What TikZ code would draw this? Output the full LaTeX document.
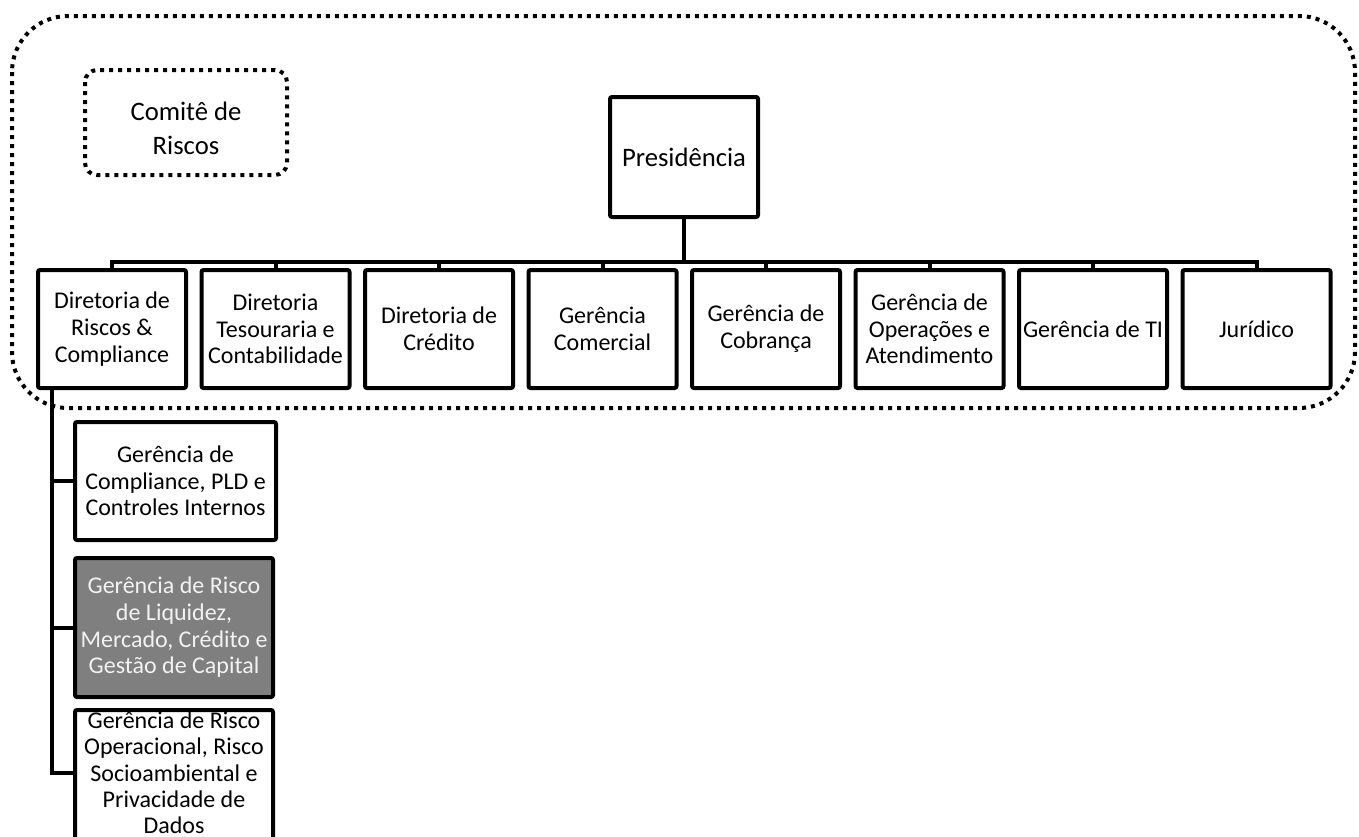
\documentclass[tikz,border=0pt]{standalone}
\usepackage{fontspec}
\setmainfont{Carlito}
\usetikzlibrary{calc}
\begin{document}
\begin{tikzpicture}[x=0.75pt,y=-0.75pt,
  box/.style={draw=black,line width=3pt,fill=white,rounded corners=1.5pt,inner sep=0pt,outer sep=0pt,align=center,anchor=north west,
    font=\fontsize{18}{20}\selectfont},
  rowbox/.style={box,minimum width=111pt,minimum height=88.5pt},
  graybox/.style={box,fill=gray50,text=textlight},
  dotline/.style={line width=3pt,dash pattern=on 3pt off 3.75pt},
  conn/.style={line width=3pt,line cap=rect}]
\definecolor{gray50}{HTML}{7F7F7F}
\definecolor{textlight}{HTML}{F2F2F2}
\useasboundingbox (0,0) rectangle (1359,836);
% outer dotted frame
\draw[dotline,rounded corners=42pt] (12,16) rectangle (1355,408);
% committee
\node[box,draw=none,fill=none,minimum width=151.5pt,minimum height=78.75pt] (comite) at (85,70) {};
\draw[dotline,rounded corners=9pt] (comite.north west) rectangle (comite.south east);
\node[align=center,inner sep=0pt,font=\fontsize{20}{25}\selectfont] (comitetext) at ($(comite.center)+(0,6)$) {Comitê de\\Riscos};
% presidency
\node[box,minimum width=111pt,minimum height=90pt,font=\fontsize{20}{24}\selectfont] (pres) at (610,97) {Presidência};
\coordinate (bar) at ($(pres.south)+(0,45)$);
% row
\node[rowbox] (b1) at (38,270) {Diretoria de\\Riscos \&\\Compliance};
\node[rowbox] (b2) at (201.5,270) {Diretoria\\Tesouraria e\\Contabilidade};
\node[rowbox] (b3) at (365,270) {Diretoria de\\Crédito};
\node[rowbox] (b4) at (528.5,270) {Gerência\\Comercial};
\node[rowbox] (b5) at (692,270) {Gerência de\\Cobrança};
\node[rowbox] (b6) at (855.5,270) {Gerência de\\Operações e\\Atendimento};
\node[rowbox] (b7) at (1019,270) {Gerência de TI};
\node[rowbox] (b8) at (1182.5,270) {Jurídico};
% sub boxes
\node[box,minimum width=150.75pt,minimum height=88.5pt] (s1) at (75,422) {Gerência de\\Compliance, PLD e\\Controles Internos};
\node[graybox,minimum width=148.5pt,minimum height=104.25pt] (s2) at (75,558) {Gerência de Risco\\de Liquidez,\\Mercado, Crédito e\\Gestão de Capital};
\node[box,minimum width=148.5pt,minimum height=105pt] (s3) at (75,710) {};
\node[align=center,inner sep=0pt,font=\fontsize{18}{19.75}\selectfont] (s3text) at ($(s3.north)+(0,63)$) {Gerência de Risco\\Operacional, Risco\\Socioambiental e\\Privacidade de\\Dados};
% connectors
\foreach \b in {b1,b2,b3,b4,b5,b6,b7,b8}{
  \draw[conn] (pres.south) -- (bar) -| (\b.north);
}
\coordinate (v) at ([xshift=10.5pt]b1.south west);
\draw[conn] (v) |- (s1.west);
\draw[conn] (v) |- (s2.west);
\draw[conn] (v) |- ($(s3.north west)+(0,63)$);
\end{tikzpicture}
\end{document}
